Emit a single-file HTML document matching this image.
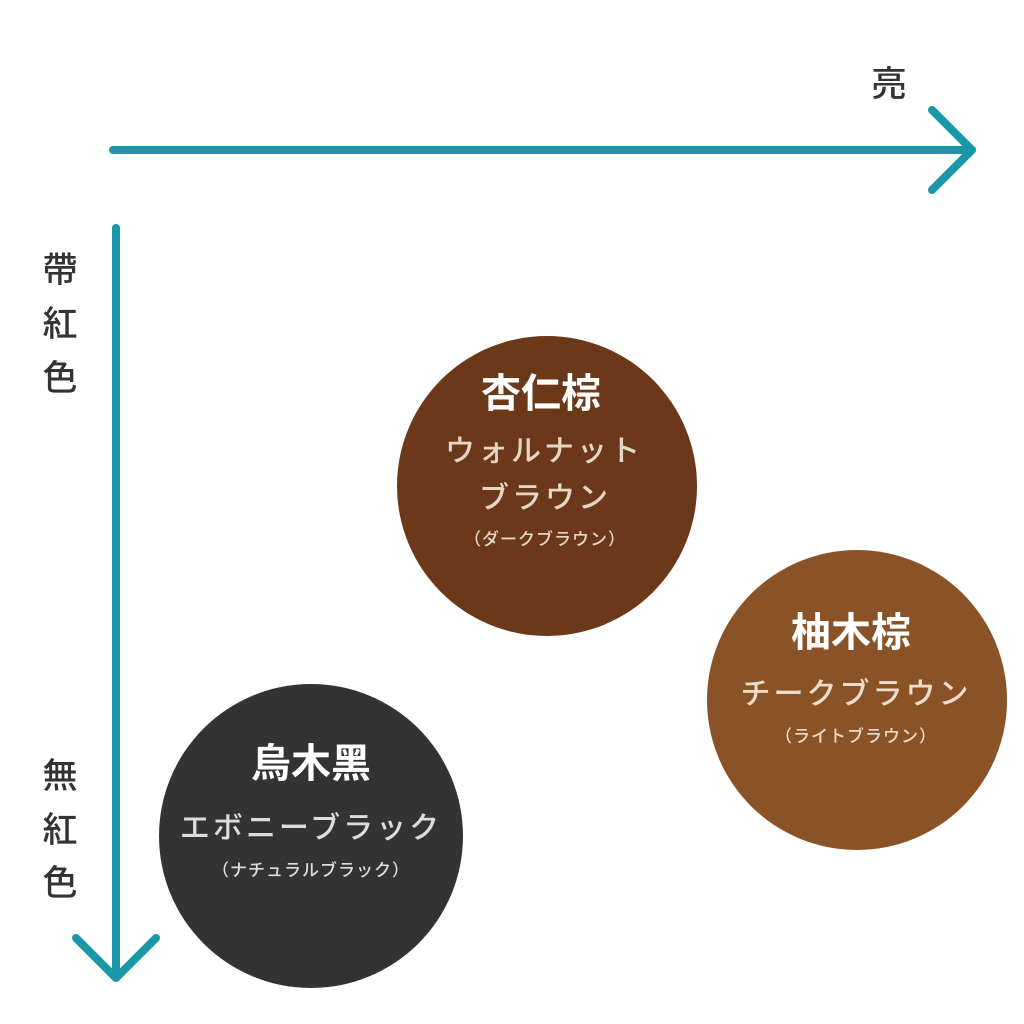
<!DOCTYPE html>
<html><head><meta charset="utf-8"><style>
html,body{margin:0;padding:0;background:#fff;}
svg{display:block;}
text{font-family:"Liberation Sans","Noto Sans CJK JP",sans-serif;}
</style></head><body>
<svg width="1024" height="1024" viewBox="0 0 1024 1024" xmlns="http://www.w3.org/2000/svg">
<g stroke="#1b97a8" stroke-width="8" fill="none" stroke-linecap="round" stroke-linejoin="round">
<line x1="113" y1="150" x2="972" y2="150"/>
<polyline points="932,110 972,150 932,190"/>
<line x1="116" y1="228" x2="116" y2="975"/>
<polyline points="76,938 116,978 156,938"/>
</g>
<g fill="#333" font-size="35" font-weight="500" text-anchor="middle">
<text x="889" y="96">亮</text>
<text x="60" y="282">帶</text>
<text x="60" y="336">紅</text>
<text x="60" y="390">色</text>
<text x="60" y="788">無</text>
<text x="60" y="842">紅</text>
<text x="60" y="895">色</text>
</g>
<circle cx="547" cy="486" r="150" fill="#6b391a"/>
<circle cx="857" cy="700" r="150" fill="#8a5327"/>
<circle cx="311" cy="836" r="152" fill="#333333"/>
<g text-anchor="middle">
<text x="541" y="407" fill="#fff" font-size="40" font-weight="bold">杏仁棕</text>
<text x="544" y="461" fill="#e6d6c6" font-size="30" font-weight="500" letter-spacing="3">ウォルナット</text>
<text x="545" y="508" fill="#e6d6c6" font-size="30" font-weight="500" letter-spacing="3">ブラウン</text>
<text x="545" y="545" fill="#e6d6c6" font-size="17" font-weight="500" letter-spacing="1">（ダークブラウン）</text>
<text x="851" y="646" fill="#fff" font-size="40" font-weight="bold">柚木棕</text>
<text x="856" y="704" fill="#ecdccc" font-size="30" font-weight="500" letter-spacing="3">チークブラウン</text>
<text x="856" y="742" fill="#ecdccc" font-size="17" font-weight="500" letter-spacing="1">（ライトブラウン）</text>
<text x="311" y="777" fill="#fff" font-size="40" font-weight="bold">烏木黑</text>
<text x="311" y="838" fill="#dddddd" font-size="30" font-weight="500" letter-spacing="3">エボニーブラック</text>
<text x="311" y="876" fill="#dddddd" font-size="17" font-weight="500" letter-spacing="1">（ナチュラルブラック）</text>
</g>
</svg>
</body></html>
